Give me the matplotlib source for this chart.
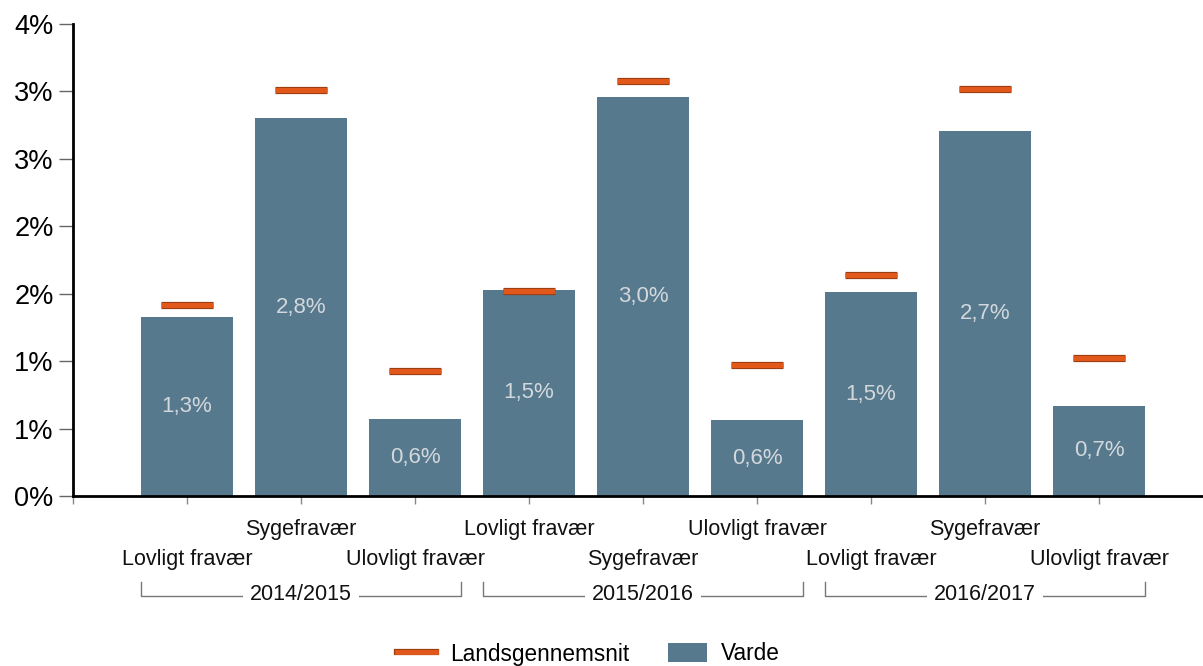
import matplotlib
matplotlib.use("Agg")
import matplotlib.pyplot as plt
from matplotlib.ticker import FuncFormatter, MultipleLocator
from matplotlib.transforms import blended_transform_factory
from matplotlib.lines import Line2D
from matplotlib.patches import Patch
import matplotlib.patheffects as pe

plt.rcParams["font.family"] = ["Liberation Sans", "DejaVu Sans"]

# Data: absence rates (%) per school year
years = ["2014/2015", "2015/2016", "2016/2017"]
categories = ["Lovligt fravær", "Sygefravær", "Ulovligt fravær"]
varde = [1.33, 2.80, 0.57,
         1.53, 2.96, 0.56,
         1.51, 2.71, 0.67]
landsgennemsnit = [1.42, 3.01, 0.93,
                   1.52, 3.08, 0.97,
                   1.64, 3.02, 1.02]

bar_color = "#56798D"
avg_color = "#E2581A"
avg_edge = "#9C3D12"

W, H = 1203, 666
fig = plt.figure(figsize=(W / 100, H / 100), dpi=100)
ax = fig.add_axes([73 / W, 1 - 496 / H, (W - 73) / W, (496 - 24) / H])

n = len(varde)
xs = list(range(1, n + 1))

ax.bar(xs, varde, width=0.8, color=bar_color, zorder=2)
ax.hlines(landsgennemsnit, [x - 0.23 for x in xs], [x + 0.23 for x in xs],
          color=avg_color, lw=3.6, zorder=3,
          path_effects=[pe.Stroke(linewidth=5.2, foreground=avg_edge), pe.Normal()])
ax.collections[-1].set_capstyle("butt")

for x, v in zip(xs, varde):
    ax.text(x, v / 2, f"{v:.1f}%".replace(".", ","), ha="center", va="center",
            fontsize=16, color="#D3D8DC", zorder=4)

ax.set_xlim(0, (W - 73) / 114.0)
ax.set_ylim(0, 3.5)
ax.yaxis.set_major_locator(MultipleLocator(0.5))
ax.yaxis.set_major_formatter(FuncFormatter(lambda v, p: f"{int(v + 0.5)}%"))
ax.set_xticks(range(0, n + 1))
ax.set_xticklabels([])

for s in ["top", "right"]:
    ax.spines[s].set_visible(False)
ax.spines["left"].set_linewidth(2)
ax.spines["bottom"].set_linewidth(2)
ax.tick_params(axis="y", length=10, width=1, color="#666666", labelsize=19.5, pad=4)
ax.tick_params(axis="x", length=6, width=1, color="#888888")

# Staggered category labels
tr = blended_transform_factory(ax.transData, fig.transFigure)
for i, x in enumerate(xs):
    label = categories[i % len(categories)]
    ypix = 565 if i % 2 == 0 else 535
    ax.text(x, 1 - ypix / H, label, transform=tr, ha="center", va="baseline",
            fontsize=15.5, color="#111111", clip_on=False)

# Year brackets
for g, year in enumerate(years):
    x0 = xs[g * 3] - 0.4
    x1 = xs[g * 3 + 2] + 0.4
    yl = 1 - 596 / H
    yt = 1 - 582 / H
    ax.plot([x0, x0, x1, x1], [yt, yl, yl, yt], transform=tr, color="#777777",
            lw=1, clip_on=False)
    ax.text((x0 + x1) / 2, 1 - 600 / H, year, transform=tr, ha="center", va="baseline",
            fontsize=15.5, color="#111111", clip_on=False,
            bbox=dict(facecolor="white", edgecolor="none", pad=5))

handles = [Line2D([], [], color=avg_color, lw=3.5,
                  path_effects=[pe.Stroke(linewidth=4.5, foreground=avg_edge), pe.Normal()]),
           Patch(facecolor=bar_color)]
fig.legend(handles, ["Landsgennemsnit", "Varde"], loc="center", ncol=2,
           bbox_to_anchor=(0.489, 1 - 654 / H), frameon=False, fontsize=16.3,
           handlelength=1.75, handleheight=0.9, handletextpad=0.6, columnspacing=1.7)

fig.savefig("out.png", dpi=100)
